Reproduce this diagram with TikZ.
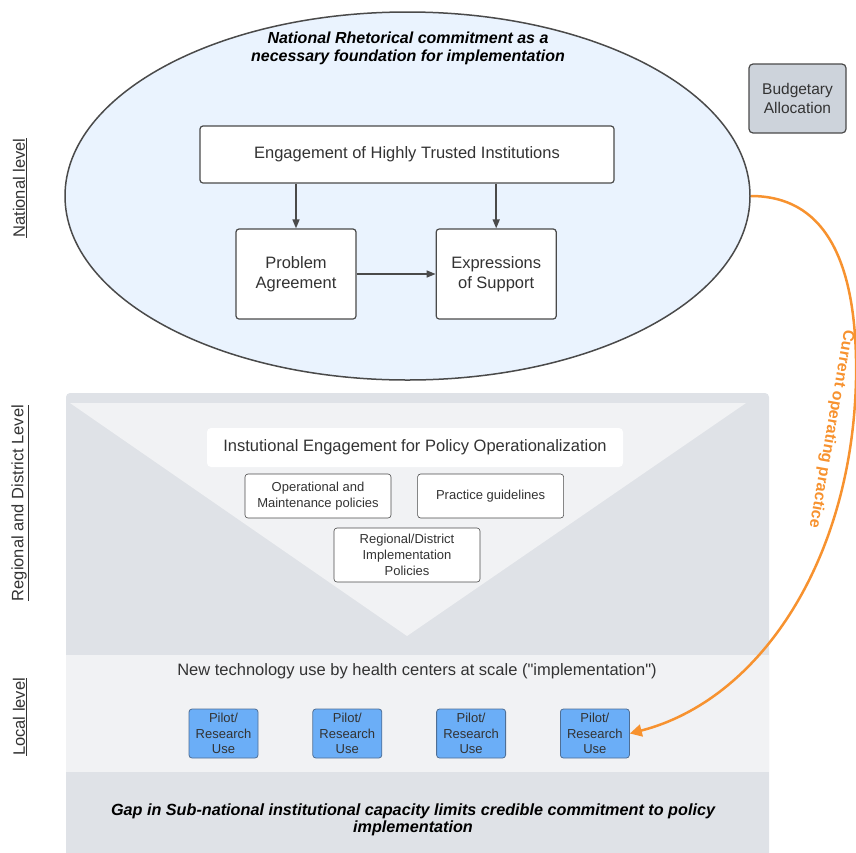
\documentclass[tikz,border=0pt]{standalone}
\usepackage{fontspec}
\setmainfont{Liberation Sans}
\usetikzlibrary{positioning,shapes.geometric,arrows.meta}

\definecolor{natfill}{HTML}{EAF3FE}
\definecolor{edgegray}{HTML}{4A4A4A}
\definecolor{txtgray}{HTML}{333333}
\definecolor{blockgray}{HTML}{DFE2E7}
\definecolor{paleband}{HTML}{F1F2F4}
\definecolor{budgetgray}{HTML}{CDD3DB}
\definecolor{pilotblue}{HTML}{6BAEF7}
\definecolor{pilotedge}{HTML}{4F6F95}
\definecolor{opsorange}{HTML}{F7922F}

\begin{document}
\begin{tikzpicture}[x=1pt,y=-1pt,node distance=2cm]
\tikzstyle{box}=[draw=edgegray,fill=white,rounded corners=3pt,line width=1.2pt,text=txtgray,align=center,inner sep=0pt]
\tikzstyle{policy}=[draw=edgegray,fill=white,rounded corners=3pt,line width=0.6pt,text=txtgray,align=center,font=\fontsize{13}{16}\selectfont,minimum width=146pt,inner sep=0pt]
\tikzstyle{pilot}=[draw=pilotedge,fill=pilotblue,rounded corners=3pt,line width=0.8pt,text=txtgray,align=center,font=\fontsize{13}{15.5}\selectfont,minimum width=69pt,minimum height=49pt,inner sep=0pt]
\tikzstyle{level}=[rotate=90,text=txtgray,font=\fontsize{16.5}{18}\selectfont]
\tikzstyle{heading}=[text=black,align=center,font=\fontsize{16}{18}\selectfont\bfseries\itshape]
\tikzstyle{flow}=[->,>={Triangle[length=9pt,width=7pt]},draw=edgegray,line width=1.5pt]
\useasboundingbox (0,0) rectangle (856,852);

% regional / local block
\fill[blockgray,rounded corners=4pt] (66,393) rectangle (769,870);
\fill[paleband] (70,403) -- (746,403) -- (407,636) -- cycle;
\fill[paleband] (66,655) rectangle (769,772);

% national level
\node [ellipse,draw=edgegray,fill=natfill,line width=1.5pt,minimum width=685pt,minimum height=368pt,inner sep=0pt] (natl) at (407.5,196) {};
\node [heading] (natltitle) at (408,48) {National Rhetorical commitment as a\\necessary foundation for implementation};
\node [box,minimum width=414pt,minimum height=57pt,font=\fontsize{16.5}{18}\selectfont] (trust) at (407,154.5) {Engagement of Highly Trusted Institutions};
\node [box,minimum width=120pt,minimum height=90pt,font=\fontsize{16.5}{20}\selectfont] (prob) at (296,274) {Problem\\Agreement};
\node [box,minimum width=120pt,minimum height=90pt,font=\fontsize{16.5}{20}\selectfont,right=79pt of prob] (expr) {Expressions\\of Support};
\draw[flow] (prob.north |- trust.south) -- (prob.north);
\draw[flow] (expr.north |- trust.south) -- (expr.north);
\draw[flow] (prob.east) -- (expr.west);

\node [box,fill=budgetgray,rounded corners=4pt,minimum width=97pt,minimum height=69pt,font=\fontsize{15.5}{19}\selectfont] (budget) at (797.5,98.5) {Budgetary\\Allocation};

% side labels
\node [level] (lvlnat) at (20,188) {\underline{National level}};
\node [level] (lvlreg) at (20,503) {\underline{Regional and District Level}};
\node [level] (lvllocal) at (20,717) {\underline{Local level}};

% regional and district level
\node [fill=white,rounded corners=4pt,minimum width=416pt,minimum height=39pt,text=txtgray,font=\fontsize{16.5}{17}\selectfont] (instit) at (415,447.5) {Instutional Engagement for Policy Operationalization};
\node [policy,minimum height=44pt] (opmaint) at (318,496) {Operational and\\Maintenance policies};
\node [policy,minimum height=44pt,right=26pt of opmaint] (practice) {Practice guidelines};
\node [policy,minimum height=54pt] (impl) at (407,555) {Regional/District\\Implementation\\Policies};

% local level
\node [text=txtgray,font=\fontsize{16.5}{17}\selectfont] (newtech) at (417,671) {New technology use by health centers at scale (\textquotedbl implementation\textquotedbl)};
\node [pilot] (pilot1) at (223.5,733.5) {Pilot/\\Research\\Use};
\node [pilot,right=54pt of pilot1] (pilot2) {Pilot/\\Research\\Use};
\node [pilot,right=54pt of pilot2] (pilot3) {Pilot/\\Research\\Use};
\node [pilot,right=54pt of pilot3] (pilot4) {Pilot/\\Research\\Use};

\node [heading,font=\fontsize{16.2}{17}\selectfont\bfseries\itshape] (gap) at (413,820) {Gap in Sub-national institutional capacity limits credible commitment to policy\\implementation};

% current practice
\draw[->,>={Triangle[length=12pt,width=12pt]},opsorange,line width=2.5pt]
    (natl.east) .. controls (830,196) and (858,270) .. (856,380)
                .. controls (852,560) and (760,700) .. (pilot4.east);
\node [text=opsorange,font=\fontsize{16}{17}\selectfont\bfseries,rotate=-100] (opslabel) at (831,429) {Current operating practice};
\end{tikzpicture}
\end{document}
